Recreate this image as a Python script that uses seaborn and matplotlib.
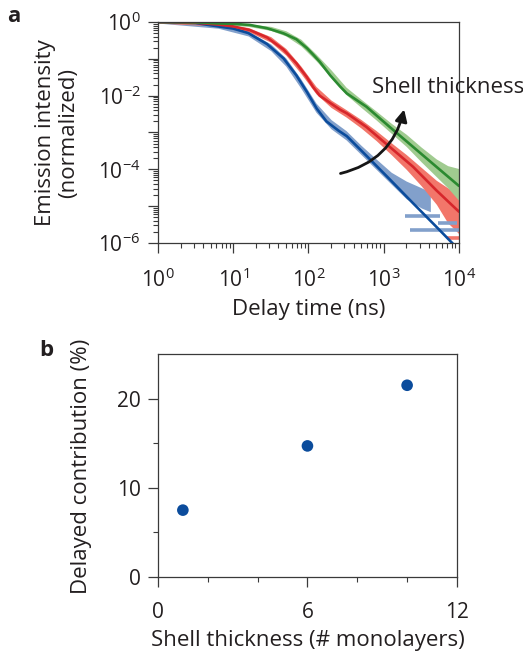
import numpy as np
import pandas as pd
import matplotlib
matplotlib.use("Agg")
import matplotlib.pyplot as plt
import matplotlib.ticker as mticker
import seaborn as sns

sns.set_style("ticks")
plt.rcParams['font.family'] = ['Open Sans', 'DejaVu Sans']
plt.rcParams['mathtext.fontset'] = 'custom'
plt.rcParams['mathtext.rm'] = 'Open Sans'
plt.rcParams['mathtext.it'] = 'Open Sans'
plt.rcParams['axes.unicode_minus'] = True

# ---- panel a: decay curves (log10 values) ----
log_t = [0, 0.5, 0.8, 1.0, 1.2, 1.45, 1.67, 1.84, 1.98, 2.11, 2.24, 2.4, 2.51, 2.77,
         3.08, 3.39, 3.70, 3.92]
blue_fit = [0, -0.03, -0.12, -0.18, -0.30, -0.60, -0.99, -1.45, -1.90, -2.35, -2.70,
            -2.95, -3.10, -3.63, -4.27, -4.92, -5.56, -6.02]
log_t_rg = [0, 0.5, 0.8, 1.0, 1.22, 1.45, 1.67, 1.84, 1.98, 2.06, 2.15, 2.29, 2.42,
            2.51, 2.77, 3.08, 3.39, 3.70, 4.0]
red_fit = [0, -0.02, -0.07, -0.12, -0.22, -0.42, -0.75, -1.12, -1.50, -1.76, -2.00,
           -2.20, -2.38, -2.48, -2.85, -3.39, -3.93, -4.57, -5.15]
green_fit = [0, -0.01, -0.04, -0.05, -0.08, -0.17, -0.31, -0.47, -0.71, -0.88, -1.08,
             -1.45, -1.75, -1.94, -2.30, -2.85, -3.39, -3.93, -4.45]

# measured data envelopes (upper / lower edge of the light bands)
env_t = [0, 0.8, 1.2, 1.5, 1.7, 1.9, 2.1, 2.3, 2.5, 2.7, 2.9, 3.1, 3.3, 3.5, 3.62]
blue_hi = [0.02, -0.09, -0.25, -0.60, -0.98, -1.55, -2.20, -2.65, -2.95, -3.35, -3.72,
           -4.08, -4.32, -4.50, -4.62]
blue_lo = [-0.03, -0.17, -0.38, -0.78, -1.20, -1.80, -2.45, -2.90, -3.20, -3.60, -4.00,
           -4.40, -4.80, -5.05, -5.15]
env_t_rg = [0, 0.8, 1.2, 1.5, 1.7, 1.9, 2.1, 2.3, 2.5, 2.7, 2.9, 3.1, 3.3, 3.5, 3.7,
            3.85, 4.0]
red_hi = [0.02, -0.04, -0.15, -0.40, -0.72, -1.20, -1.75, -2.12, -2.38, -2.65, -2.95,
          -3.28, -3.60, -3.95, -4.30, -4.50, -4.65]
red_lo = [-0.03, -0.11, -0.26, -0.55, -0.90, -1.40, -1.95, -2.32, -2.58, -2.88, -3.22,
          -3.60, -4.00, -4.45, -4.95, -5.45, -5.75]
green_hi = [0.02, -0.01, -0.05, -0.12, -0.24, -0.47, -0.87, -1.30, -1.77, -2.10, -2.42,
            -2.75, -3.05, -3.40, -3.72, -3.90, -3.98]
green_lo = [-0.02, -0.07, -0.12, -0.23, -0.38, -0.65, -1.05, -1.50, -1.97, -2.32, -2.66,
            -3.02, -3.38, -3.80, -4.20, -4.50, -4.85]

# single-count streaks at long delay (level, start, end)
blue_streak_lvl = [-5.28, -5.45, -5.65]
blue_streak_t0 = [3.28, 3.72, 3.35]
blue_streak_t1 = [3.75, 3.98, 4.0]
red_streak_lvl = [-5.87]
red_streak_t0 = [3.84]
red_streak_t1 = [4.0]

# ---- panel b ----
shell_ml = [1, 6, 10]
delayed_pct = [7.5, 14.7, 21.5]

blue_line, blue_data = "#0b4c9c", "#82a0cb"
red_line, red_data = "#d7262b", "#f2766a"
green_line, green_data = "#2b8a30", "#a0cb90"
spine_c = "#3a3a3a"
txt_c = "#231f20"
fs = 16
fs_tick = 15

fig = plt.figure(figsize=(5.23, 6.52), dpi=100)
ax = fig.add_axes([0.302, 0.6273, 0.5755, 0.339])
axb = fig.add_axes([0.302, 0.115, 0.5717, 0.342])

p = lambda v: 10 ** np.asarray(v, dtype=float)

for t, hi, lo, c in [(env_t, blue_hi, blue_lo, blue_data),
                     (env_t_rg, red_hi, red_lo, red_data),
                     (env_t_rg, green_hi, green_lo, green_data)]:
    ax.fill_between(p(t), p(hi), p(lo), color=c, lw=0)
    if c == blue_data:
        ax.hlines(p(blue_streak_lvl), p(blue_streak_t0), p(blue_streak_t1),
                  color=blue_data, lw=2.6)
    if c == red_data:
        ax.hlines(p(red_streak_lvl), p(red_streak_t0), p(red_streak_t1),
                  color=red_data, lw=2.6)

fits = pd.DataFrame({
    "t": np.concatenate([p(log_t), p(log_t_rg), p(log_t_rg)]),
    "I": np.concatenate([p(blue_fit), p(red_fit), p(green_fit)]),
    "shell": ["thin"] * len(log_t) + ["mid"] * len(log_t_rg) + ["thick"] * len(log_t_rg),
})
sns.lineplot(data=fits, x="t", y="I", hue="shell", sort=False, estimator=None,
             palette={"thin": blue_line, "mid": red_line, "thick": green_line},
             lw=1.9, legend=False, ax=ax)

ax.set_xscale("log")
ax.set_yscale("log")
ax.set_xlim(1, 1e4)
ax.set_ylim(1e-6, 1)

ax.xaxis.set_major_locator(mticker.FixedLocator([1, 10, 100, 1e3, 1e4]))
ax.xaxis.set_major_formatter(mticker.FixedFormatter(
    [r"$10^{0}$", r"$10^{1}$", r"$10^{2}$", r"$10^{3}$", r"$10^{4}$"]))
ax.xaxis.set_minor_locator(mticker.LogLocator(base=10, subs=np.arange(2, 10), numticks=20))
ax.xaxis.set_minor_formatter(mticker.NullFormatter())
ydec = [1e-6, 1e-5, 1e-4, 1e-3, 1e-2, 1e-1, 1]
ax.yaxis.set_major_locator(mticker.FixedLocator(ydec))
ax.yaxis.set_major_formatter(mticker.FixedFormatter(
    [r"$10^{-6}$", "", r"$10^{-4}$", "", r"$10^{-2}$", "", r"$10^{0}$"]))
ax.yaxis.set_minor_locator(mticker.LogLocator(base=10, subs=np.arange(2, 10), numticks=20))
ax.yaxis.set_minor_formatter(mticker.NullFormatter())

ax.annotate("", xy=(10 ** 3.28, 10 ** -2.30), xytext=(10 ** 2.39, 10 ** -4.13),
            arrowprops=dict(arrowstyle="-|>,head_length=0.7,head_width=0.35",
                            connectionstyle="arc3,rad=0.32", color="#161616", lw=2.0))
ax.text(10 ** 2.84, 10 ** -1.79, "Shell thickness", fontsize=fs, ha="left", va="center",
        color=txt_c, clip_on=False)

sns.scatterplot(x=shell_ml, y=delayed_pct, color=blue_line, s=70, edgecolor="none", ax=axb)
axb.set_xlim(0, 12)
axb.set_ylim(0, 25)
axb.set_xticks([0, 6, 12])
axb.set_xticks([2, 4, 8, 10], minor=True)
axb.set_yticks([0, 10, 20])
axb.set_yticks([5, 15], minor=True)

for a in (ax, axb):
    for s in a.spines.values():
        s.set_color(spine_c)
        s.set_linewidth(0.9)
    a.tick_params(which="major", direction="out", length=7.5, width=0.9, color=spine_c,
                  labelsize=fs_tick, labelcolor=txt_c)
    a.tick_params(which="minor", direction="out", length=3.8, width=0.8, color=spine_c)
    a.tick_params(axis="x", which="major", pad=10.5)
    a.tick_params(axis="y", which="major", pad=5)
    a.set_xlabel("")
    a.set_ylabel("")

ax.set_xlabel("Delay time (ns)", fontsize=fs, color=txt_c, labelpad=5)
axb.set_xlabel("Shell thickness (# monolayers)", fontsize=fs, color=txt_c, labelpad=5)
fig.text(57 / 523, 1 - 133 / 652, "Emission intensity\n(normalized)", rotation=90,
         ha="center", va="center", fontsize=fs, color=txt_c, multialignment="center",
         linespacing=1.15)
fig.text(81 / 523, 1 - 466 / 652, "Delayed contribution (%)", rotation=90,
         ha="center", va="center", fontsize=fs, color=txt_c)
fig.text(14 / 523, 1 - 17 / 652, "a", fontsize=fs, fontweight="bold", ha="center",
         va="center", color=txt_c)
fig.text(46 / 523, 1 - 350 / 652, "b", fontsize=fs, fontweight="bold", ha="center",
         va="center", color=txt_c)

fig.savefig("out.png", dpi=100)
